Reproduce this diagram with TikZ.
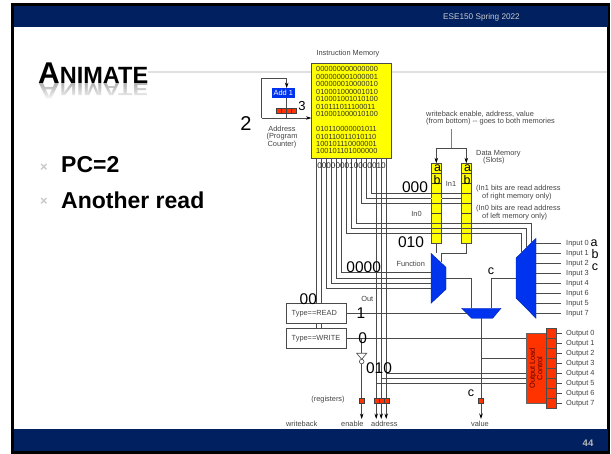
\documentclass[tikz,border=0pt]{standalone}
\usepackage{graphicx}
\usepackage{fontspec}
\setmainfont{Liberation Sans}
\usetikzlibrary{arrows.meta,fadings}
\definecolor{navy}{HTML}{002060}
\definecolor{wire}{HTML}{4A4A4A}
\definecolor{lab}{HTML}{444444}
\definecolor{memy}{HTML}{FFFF00}
\definecolor{regred}{HTML}{FF3300}
\definecolor{muxb}{HTML}{0033EE}
\newcommand{\fs}[1]{\fontsize{#1}{#1}\selectfont}
\tikzset{
  x=1pt,y=-1pt,
  w/.style={draw=wire,line width=.7pt},
  ga/.style={w,-{Stealth[length=5.5pt,width=3.5pt,black]}},
  lb/.style={inner sep=0pt,text=lab,font=\fs{7.4}},
  lw/.style={lb,anchor=west},
  big/.style={inner sep=0pt,text=black,font=\fs{15.5}},
  sm/.style={inner sep=0pt,text=black,font=\fs{12.5}},
  bits/.style={inner sep=0pt,anchor=west,text=black!80,font=\fs{7.4}},
  mux/.style={fill=muxb,draw=muxb!70!black,line width=.4pt},
  reg/.style={fill=regred,draw=black!75,line width=.4pt,minimum width=5pt,minimum height=5pt,inner sep=0pt},
  mem/.style={fill=memy,draw=black!70,line width=.5pt,inner sep=0pt,minimum width=10.6pt,minimum height=80pt},
  typebox/.style={draw=wire,line width=.7pt,fill=white,minimum width=60.5pt,minimum height=20pt,inner sep=0pt},
}
\begin{document}
\begin{tikzpicture}
\useasboundingbox (0,0) rectangle (611,454);
% slide frame
\fill[white] (0,0) rectangle (611,454);
\fill[black] (11,3) rectangle (610,454);
\fill[white] (13.5,27) rectangle (607,429);
\fill[navy] (14,6) rectangle (608,27);
\fill[navy] (14,429) rectangle (608,451.5);
\node[inner sep=0pt,text=white!80!black,font=\fs{8.2}] (hdr) at (481.5,17.5) {ESE150 Spring 2022};
\node[inner sep=0pt,text=white!72!black,font=\bfseries\fs{9.5}] (pg) at (588,443.5) {44};
% title
\draw[black!12,line width=2.2pt] (148,72) coordinate (rl) -- (607,72) coordinate (rr);
\node[inner sep=0pt,anchor=base west,font=\bfseries] (title) at (38,83.3) {{\fs{30}A}{\fs{23.5}NIMATE}};
\node[inner sep=0pt,anchor=north west,font=\bfseries,text=black!30] (titler) at (38,83.8) {\scalebox{1}[-.75]{{\fs{30}A}{\fs{23.5}NIMATE}}};
\fill[white,path fading=north] (36,83.5) rectangle (152,100);
% bullets
\node[inner sep=0pt,text=black!22,font=\bfseries\fs{13}] (b1) at (44,168) {×};
\node[inner sep=0pt,text=black!22,font=\bfseries\fs{13}] (b2) at (44,201.5) {×};
\node[inner sep=0pt,anchor=west,font=\bfseries\fs{23}] (t1) at (61,165) {PC=2};
\node[inner sep=0pt,anchor=west,font=\bfseries\fs{23}] (t2) at (61,200) {Another read};
% instruction memory
\node[draw=black!70,fill=memy,line width=.6pt,minimum width=79.6pt,minimum height=95pt,inner sep=0pt] (imem) at (351.5,110.5) {};
\node[lb] (imt) at (348,54) {Instruction Memory};
\foreach \t/\yy in {000000000000000/69,000000001000001/76.6,000000010000010/84,010001000001010/91.6,010001001010100/99,010111011100011/106.6,010001000010100/114,010110000001011/129,010110011010110/136.6,100101110000001/144.3,100101101000000/151}
  \node[bits] at (316,\yy) {\t};
% PC loop
\node[fill=muxb,minimum width=23.3pt,minimum height=10pt,inner sep=0pt,text=white,font=\fs{7.4}] (add) at (283.3,93.3) {Add 1};
\foreach \i/\xx in {1/278.5,2/283.5,3/288.5,4/293.5}
  \node[reg] (pc\i) at (\xx,110.8) {};
\coordinate (pcl) at (261.7,118);
\coordinate (pct) at (261.7,78.3);
\coordinate (pctr) at (286.7,78.3);
\coordinate (addb) at (286.7,98.3);
\coordinate (pcm) at (286.7,118);
\coordinate (imin) at (imem.west |- pcl);
\draw[ga] (pcl) -- (pct) -- (pctr) -- (pctr |- add.north);
\draw[w] (addb) -- (pctr |- pc2.north);
\draw[w] (pctr |- pc2.south) -- (pcm);
\draw[ga] (pcl) -- (imin);
\node[inner sep=0pt,font=\fs{13}] (n3) at (302,106) {3};
\node[inner sep=0pt,font=\fs{20}] (n2) at (246,123.5) {2};
\node[lb,align=center] (addr) at (282,137) {Address\\(Program\\Counter)};
% wires from instruction memory
\foreach \i/\xx in {1/316.7,2/321.7,3/326.5,4/331.4,5/336.3,6/341.3,7/346.3,8/351.3,9/356.2,10/361.2,11/366.2,12/371.2,13/376.2,14/381.2,15/386.2}
  \coordinate (b\i) at (\xx,158);
% data memories
\node[mem,anchor=north] (lmem) at (436.3,163.3) {};
\node[mem,anchor=north] (rmem) at (466.3,163.3) {};
\foreach \m in {lmem,rmem}
  \foreach \k in {1,...,7}
    \draw[black!75,line width=.5pt] ([yshift=-\k*10pt]\m.north west) -- ([yshift=-\k*10pt]\m.north east);
% In1 wires
\foreach \i/\yy in {12/193.3,11/198.3,10/203.3}
  \draw[w] (b\i) |- (rmem.west |- {0,\yy});
\foreach \i/\yy in {12/193.3,11/198.3,10/203.3}
  \fill[memy] ([yshift=.4pt]lmem.west |- {0,\yy}) rectangle ([yshift=-.4pt]lmem.east |- {0,\yy});
\draw[black!75,line width=.5pt] ([yshift=-30pt]lmem.north west) -- ([yshift=-30pt]lmem.north east);
\draw[black!75,line width=.5pt] ([yshift=-40pt]lmem.north west) -- ([yshift=-40pt]lmem.north east);
% muxes
\path[mux,draw] (431,253.3) coordinate (lm1) -- (446,267.3) coordinate (lm2) -- (446,289.3) coordinate (lm3) -- (431,303.3) coordinate (lm4) -- cycle;
\path[mux,draw] (516,258) coordinate (rm1) -- (536,238.3) coordinate (rm2) -- (536,318.3) coordinate (rm3) -- (516,298) coordinate (rm4) -- cycle;
\path[mux,draw] (461.7,308.3) coordinate (om1) -- (501,308.3) coordinate (om2) -- (492.7,318.3) coordinate (om3) -- (471.7,318.3) coordinate (om4) -- cycle;
% In0 wires to right mux
\draw[w] (b9) |- (531,223.3) coordinate (c1) -- (531,242.5);
\draw[w] (b8) |- (526,228.5) coordinate (c2) -- (526,247.5);
\draw[w] (b7) |- (521,233.3) coordinate (c3) -- (521,252.5);
% function wires
\foreach \i/\yy in {6/272.7,5/278,4/283,3/288}
  \draw[w] (b\i) |- (lm1 |- {0,\yy});
% type wires
\node[typebox] (tread) at (316.4,313.3) {};
\node[typebox] (twrite) at (316.4,338.3) {};
\node[lb,anchor=west] at (291.5,313.8) {Type==READ};
\node[lb,anchor=west] at (291.5,338.8) {Type==WRITE};
\draw[w] (b1) -- (b1 |- tread.north);
\draw[w] (b2) -- (b2 |- tread.north);
\draw[w] (b1 |- tread.south) -- (b1 |- twrite.north);
\draw[w] (b2 |- tread.south) -- (b2 |- twrite.north);
% registers and outputs
\node[reg] (ren) at (361.7,400.8) {};
\node[reg] (ra1) at (376.2,400.8) {};
\node[reg] (ra2) at (381.2,400.8) {};
\node[reg] (ra3) at (386.2,400.8) {};
\node[reg] (rv) at (481,400.8) {};
\coordinate (aen) at (361.7,419);
\coordinate (aa1) at (376.2,419);
\coordinate (aa2) at (381.2,419);
\coordinate (aa3) at (386.2,419);
\coordinate (av) at (481,419);
\foreach \a/\b in {ren/aen,ra1/aa1,ra2/aa2,ra3/aa3,rv/av}
  \draw[ga] (\a.south) -- (\b);
\draw[w] (b13) -- (ra1.north);
\draw[w] (b14) -- (ra2.north);
\draw[w] (b15) -- (ra3.north);
% load control
\node[fill=regred,draw=black!60,line width=.4pt,minimum width=20pt,minimum height=70pt,inner sep=0pt] (olc) at (536,368.3) {};
\node[inner sep=0pt,rotate=90,align=center,text=black!65!red,font=\fs{7.4}] (olct) at (536,368.3) {Output Load\\Control};
\foreach \k in {0,...,7} {
  \pgfmathsetmacro{\yy}{333.3+10*\k}
  \node[fill=regred,draw=black!70,line width=.4pt,minimum width=10pt,minimum height=10pt,inner sep=0pt] (oc\k) at (551,\yy) {};
  \coordinate (oe\k) at (562,\yy);
  \draw[w] (oc\k.east) -- (oe\k);
  \node[lw] (ol\k) at (566,\yy+.7) {Output \k};
}
% mux connections
\draw[w] (tread.east) -- (466.5,313.3);
\draw[w] (twrite.east) -- (olc.west |- twrite.east);
\draw[w] (rv.north |- om3) -- (rv.north);
\draw[w] (rv.north |- 0,358.3) -- (olc.west |- 0,358.3);
\draw[w] (ra3 |- 0,373.3) -- (olc.west |- 0,373.3);
\draw[w] (ra2 |- 0,378.3) -- (olc.west |- 0,378.3);
\draw[w] (ra1 |- 0,383.3) -- (olc.west |- 0,383.3);
\draw[w] (lmem.south) -- (lmem.south |- lm1);
\draw[w] (rmem.south) |- (441,253.3) coordinate (lj) -- (441,262.5);
\draw[w] (446,278) -| (471,308.3);
\draw[w] (516,278) -| (491,308.3);
% inverter
\coordinate (jw) at (361.7,338.3);
\draw[w] (jw) -- (361.7,353.3);
\path[draw=wire,fill=white,line width=.6pt] (356.7,353.3) -- (366.7,353.3) -- (361.7,359.3) -- cycle;
\node[draw=wire,fill=white,line width=.6pt,circle,minimum size=4.6pt,inner sep=0pt] (inv) at (361.7,361.6) {};
\draw[w] (inv.south) -- (ren.north);
% writeback feed
\coordinate (wb) at (451.3,128.7);
\coordinate (wbj) at (451.3,148.7);
\draw[draw=black!50,line width=.7pt] (wb) -- (wbj);
\draw[ga] (wbj) -| (lmem.north);
\draw[ga] (wbj) -| (rmem.north);
% right mux inputs
\foreach \k/\n in {0/0,1/1,2/2,3/3,4/4,5/6,6/5,7/7} {
  \pgfmathsetmacro{\yy}{243.3+10*\k}
  \coordinate (ie\k) at (536,\yy);
  \coordinate (is\k) at (561,\yy);
  \draw[w] (ie\k) -- (is\k);
  \node[lw] (il\k) at (566,\yy+.3) {Input \n};
}
% labels
\node[lw] at (426,114.3) {writeback enable, address, value};
\node[lw] at (426,121.7) {(from bottom) {-}{-} goes to both memories};
\node[lw] at (476,153.7) {Data Memory};
\node[lw] at (483,161) {(Slots)};
\node[lb] at (451,183.7) {In1};
\node[lb] at (416.5,214) {In0};
\node[lw] at (476,188.7) {(In1 bits are read address};
\node[lw] at (482,196.7) {of right memory only)};
\node[lw] at (476,208.7) {(In0 bits are read address};
\node[lw] at (482,216.7) {of left memory only)};
\node[lb] at (410.7,264.3) {Function};
\node[lb] at (367.3,299.3) {Out};
\node[lb] at (328,399.3) {(registers)};
\node[lb] at (301.7,424.3) {writeback};
\node[lb] at (352.3,424.3) {enable};
\node[lb] at (384.3,424.3) {address};
\node[lb] at (480,424.3) {value};
\node[inner sep=0pt,text=black!85,font=\fs{8.2}] at (351.5,166) {000000010000010};
\node[sm] at (437.5,168) {a};
\node[sm] at (437,180) {b};
\node[sm] at (467.5,168) {a};
\node[sm] at (467,180) {b};
\node[sm] at (594,243) {a};
\node[sm] at (595,254) {b};
\node[sm] at (595,267) {c};
\node[sm] at (491,271) {c};
\node[sm] at (471,392.7) {c};
\node[big] at (415,187) {000};
\node[big] at (411,242) {010};
\node[big] at (363.7,266.7) {0000};
\node[big] at (308.3,299) {00};
\node[big] at (361,313.3) {1};
\node[big] at (362.7,338.3) {0};
\node[big] at (379,368.3) {010};
\end{tikzpicture}
\end{document}
